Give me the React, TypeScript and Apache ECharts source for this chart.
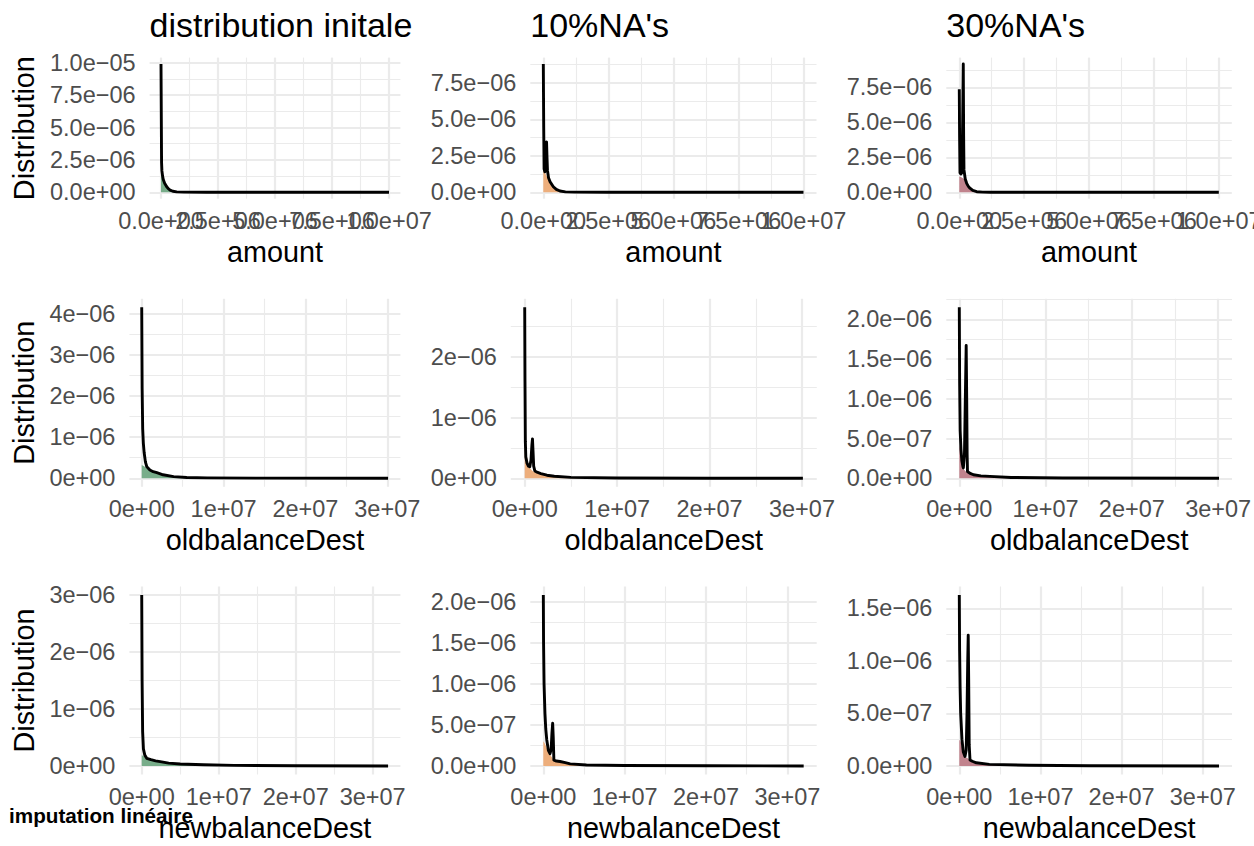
import React, { useEffect, useRef } from "react";
import * as echarts from "echarts";

// ---------------- data ----------------
const columnTitles = ["distribution initale", "10%NA's", "30%NA's"];
const variableNames = ["amount", "oldbalanceDest", "newbalanceDest"];
const yAxisTitle = "Distribution";
const captionText = "imputation linéaire";

// x-axis breaks and labels
const amountXTicks = [0, 2.5e6, 5e6, 7.5e6, 1e7];
const amountXLabels = ["0.0e+00", "2.5e+06", "5.0e+06", "7.5e+06", "1.0e+07"];
const amountXMinor = [1.25e6, 3.75e6, 6.25e6, 8.75e6];
const balanceXTicks = [0, 1e7, 2e7, 3e7];
const balanceXLabels = ["0e+00", "1e+07", "2e+07", "3e+07"];
const balanceXMinor = [0.5e7, 1.5e7, 2.5e7];

// y-axis breaks and labels
const yTicksAmount = [0, 2.5e-6, 5e-6, 7.5e-6, 1e-5];
const yLabelsAmount = ["0.0e+00", "2.5e\u221206", "5.0e\u221206", "7.5e\u221206", "1.0e\u221205"];
const yMinorAmount = [1.25e-6, 3.75e-6, 6.25e-6, 8.75e-6];
const yTicksInt = [0, 1e-6, 2e-6, 3e-6, 4e-6];
const yLabelsInt = ["0e+00", "1e\u221206", "2e\u221206", "3e\u221206", "4e\u221206"];
const yMinorInt = [0.5e-6, 1.5e-6, 2.5e-6, 3.5e-6];
const yTicksHalf = [0, 5e-7, 1e-6, 1.5e-6, 2e-6];
const yLabelsHalf = ["0.0e+00", "5.0e\u221207", "1.0e\u221206", "1.5e\u221206", "2.0e\u221206"];
const yMinorHalf = [2.5e-7, 7.5e-7, 1.25e-6, 1.75e-6, 2.25e-6];

// densities: [x, density]
const amountInitLine = [[0, 9.9e-6], [25000, 2.3e-6], [40000, 1.65e-6], [70000, 1.25e-6], [100000, 0.98e-6], [160000, 0.7e-6], [250000, 0.43e-6], [320000, 0.28e-6], [400000, 0.17e-6], [520000, 0.08e-6], [690000, 0.03e-6], [1000000, 0.012e-6], [2000000, 0.004e-6], [5000000, 0.001e-6], [1e7, 0]];
const amountInitFill = [[0, 1.75e-6], [40000, 1.62e-6], [70000, 1.25e-6], [100000, 0.98e-6], [160000, 0.7e-6], [250000, 0.43e-6], [320000, 0.28e-6], [400000, 0.17e-6], [520000, 0.08e-6], [690000, 0.03e-6], [1000000, 0.012e-6], [2000000, 0.004e-6], [5000000, 0.001e-6], [1e7, 0]];

const amount10Line = [[0, 8.79e-6], [15000, 4.5e-6], [30000, 1.6e-6], [60000, 1.4e-6], [100000, 2.3e-6], [125000, 3.45e-6], [140000, 2.5e-6], [160000, 1.5e-6], [200000, 1.0e-6], [260000, 0.72e-6], [385000, 0.38e-6], [500000, 0.2e-6], [640000, 0.09e-6], [850000, 0.03e-6], [1200000, 0.01e-6], [2500000, 0.003e-6], [5000000, 0.001e-6], [1e7, 0]];
const amount10Fill = [[0, 1.55e-6], [60000, 1.35e-6], [125000, 1.1e-6], [200000, 0.9e-6], [260000, 0.7e-6], [385000, 0.37e-6], [500000, 0.2e-6], [640000, 0.09e-6], [850000, 0.03e-6], [1200000, 0.01e-6], [2500000, 0.003e-6], [1e7, 0]];

const amount30Line = [[0, 7.36e-6], [12000, 4e-6], [27000, 1.4e-6], [60000, 1.3e-6], [104000, 1.4e-6], [130000, 5e-6], [154000, 9.16e-6], [168000, 4e-6], [181000, 1.6e-6], [230000, 0.95e-6], [285000, 0.64e-6], [350000, 0.42e-6], [412000, 0.29e-6], [520000, 0.13e-6], [670000, 0.04e-6], [900000, 0.015e-6], [1200000, 0.006e-6], [2500000, 0.002e-6], [1e7, 0]];
const amount30Fill = [[0, 1.12e-6], [100000, 1.05e-6], [181000, 0.95e-6], [230000, 0.8e-6], [285000, 0.62e-6], [350000, 0.42e-6], [412000, 0.29e-6], [520000, 0.13e-6], [670000, 0.04e-6], [900000, 0.015e-6], [1500000, 0.004e-6], [1e7, 0]];

const oldInitLine = [[0, 4.16e-6], [50000, 2.2e-6], [120000, 1.2e-6], [200000, 0.85e-6], [300000, 0.62e-6], [450000, 0.4e-6], [620000, 0.28e-6], [1000000, 0.2e-6], [1400000, 0.16e-6], [1850000, 0.135e-6], [2600000, 0.085e-6], [3900000, 0.04e-6], [5500000, 0.02e-6], [8000000, 0.01e-6], [1.5e7, 0.003e-6], [3.01e7, 0]];
const oldInitFill = [[0, 0.32e-6], [300000, 0.29e-6], [620000, 0.24e-6], [1000000, 0.19e-6], [1400000, 0.155e-6], [1850000, 0.13e-6], [2600000, 0.085e-6], [3900000, 0.04e-6], [5500000, 0.02e-6], [8000000, 0.01e-6], [1.5e7, 0.003e-6], [3.01e7, 0]];

const old10Line = [[0, 2.82e-6], [30000, 1.6e-6], [70000, 0.6e-6], [120000, 0.35e-6], [250000, 0.25e-6], [400000, 0.2e-6], [550000, 0.19e-6], [680000, 0.3e-6], [780000, 0.55e-6], [840000, 0.65e-6], [900000, 0.45e-6], [970000, 0.2e-6], [1100000, 0.12e-6], [1400000, 0.095e-6], [1750000, 0.077e-6], [2400000, 0.05e-6], [3200000, 0.033e-6], [5000000, 0.015e-6], [1e7, 0.005e-6], [2e7, 0.001e-6], [3.01e7, 0]];
const old10Fill = [[0, 0.65e-6], [100000, 0.55e-6], [250000, 0.35e-6], [400000, 0.24e-6], [550000, 0.17e-6], [840000, 0.12e-6], [1100000, 0.1e-6], [1750000, 0.065e-6], [3200000, 0.03e-6], [5000000, 0.014e-6], [1e7, 0.004e-6], [3.01e7, 0]];

const old30Line = [[0, 2.15e-6], [40000, 1.2e-6], [100000, 0.6e-6], [195000, 0.36e-6], [300000, 0.22e-6], [400000, 0.16e-6], [470000, 0.13e-6], [600000, 0.3e-6], [700000, 1.0e-6], [800000, 1.67e-6], [860000, 1.0e-6], [910000, 0.3e-6], [950000, 0.085e-6], [1200000, 0.065e-6], [1640000, 0.044e-6], [2500000, 0.03e-6], [3550000, 0.023e-6], [6000000, 0.01e-6], [1.2e7, 0.003e-6], [3.01e7, 0]];
const old30Fill = [[0, 0.42e-6], [195000, 0.3e-6], [460000, 0.12e-6], [800000, 0.08e-6], [950000, 0.07e-6], [1200000, 0.06e-6], [1640000, 0.044e-6], [2500000, 0.03e-6], [3550000, 0.022e-6], [6000000, 0.01e-6], [1.2e7, 0.003e-6], [3.01e7, 0]];

const newInitLine = [[0, 3.0e-6], [50000, 1.5e-6], [120000, 0.6e-6], [220000, 0.3e-6], [400000, 0.19e-6], [650000, 0.135e-6], [1200000, 0.11e-6], [1800000, 0.09e-6], [2400000, 0.075e-6], [3500000, 0.05e-6], [5000000, 0.035e-6], [8000000, 0.02e-6], [1.2e7, 0.01e-6], [2e7, 0.004e-6], [3.2e7, 0]];
const newInitFill = [[0, 0.19e-6], [400000, 0.16e-6], [650000, 0.13e-6], [1200000, 0.105e-6], [1800000, 0.088e-6], [2400000, 0.072e-6], [3500000, 0.05e-6], [5000000, 0.034e-6], [8000000, 0.02e-6], [1.2e7, 0.009e-6], [2e7, 0.004e-6], [3.2e7, 0]];

const new10Line = [[0, 2.08e-6], [30000, 1.5e-6], [90000, 1.0e-6], [200000, 0.64e-6], [300000, 0.45e-6], [420000, 0.32e-6], [620000, 0.19e-6], [820000, 0.15e-6], [960000, 0.2e-6], [1060000, 0.4e-6], [1150000, 0.52e-6], [1220000, 0.35e-6], [1300000, 0.07e-6], [1600000, 0.06e-6], [2050000, 0.054e-6], [2700000, 0.04e-6], [3300000, 0.025e-6], [5300000, 0.012e-6], [1e7, 0.005e-6], [2e7, 0.002e-6], [3.2e7, 0]];
const new10Fill = [[0, 0.3e-6], [200000, 0.27e-6], [420000, 0.22e-6], [620000, 0.17e-6], [820000, 0.14e-6], [1150000, 0.09e-6], [1300000, 0.066e-6], [1600000, 0.058e-6], [2050000, 0.05e-6], [2700000, 0.038e-6], [3300000, 0.024e-6], [5300000, 0.011e-6], [1e7, 0.004e-6], [3.2e7, 0]];

const new30Line = [[0, 1.627e-6], [40000, 1.1e-6], [100000, 0.75e-6], [170000, 0.5e-6], [330000, 0.25e-6], [490000, 0.136e-6], [700000, 0.09e-6], [850000, 0.15e-6], [950000, 0.5e-6], [1040000, 1.0e-6], [1100000, 1.245e-6], [1160000, 0.8e-6], [1220000, 0.2e-6], [1320000, 0.057e-6], [1600000, 0.045e-6], [2100000, 0.03e-6], [3700000, 0.015e-6], [8600000, 0.006e-6], [1.6e7, 0.002e-6], [3.2e7, 0]];
const new30Fill = [[0, 0.25e-6], [170000, 0.23e-6], [330000, 0.18e-6], [490000, 0.12e-6], [700000, 0.085e-6], [1100000, 0.07e-6], [1320000, 0.05e-6], [1600000, 0.042e-6], [2100000, 0.03e-6], [3700000, 0.014e-6], [8600000, 0.005e-6], [3.2e7, 0]];

// ---------------- layout / style ----------------
const FONT = "Liberation Sans";
const GREEN = "#78AD8A";
const ORANGE = "#EDAE7C";
const PINK = "#C1838D";
const colColors = [GREEN, ORANGE, PINK];

const rowTop = [57.6, 298.8, 586.5];
const rowBottom = [198.7, 486.8, 774.5];

type Panel = {
  row: number; col: number; left: number; right: number;
  line: number[][]; fill: number[][];
  xTicks: number[]; xLabels: string[]; xMinor: number[];
  yTicks: number[]; yLabels: string[]; yMinor: number[];
};

const panels: Panel[] = [
  { row: 0, col: 0, left: 149.6, right: 400.4, line: amountInitLine, fill: amountInitFill, xTicks: amountXTicks, xLabels: amountXLabels, xMinor: amountXMinor, yTicks: yTicksAmount, yLabels: yLabelsAmount, yMinor: yMinorAmount },
  { row: 0, col: 1, left: 530.3, right: 816.5, line: amount10Line, fill: amount10Fill, xTicks: amountXTicks, xLabels: amountXLabels, xMinor: amountXMinor, yTicks: yTicksAmount, yLabels: yLabelsAmount, yMinor: yMinorAmount },
  { row: 0, col: 2, left: 946.3, right: 1231.8, line: amount30Line, fill: amount30Fill, xTicks: amountXTicks, xLabels: amountXLabels, xMinor: amountXMinor, yTicks: yTicksAmount, yLabels: yLabelsAmount, yMinor: yMinorAmount },
  { row: 1, col: 0, left: 129.4, right: 400.4, line: oldInitLine, fill: oldInitFill, xTicks: balanceXTicks, xLabels: balanceXLabels, xMinor: balanceXMinor, yTicks: yTicksInt, yLabels: yLabelsInt, yMinor: yMinorInt },
  { row: 1, col: 1, left: 510.8, right: 816.8, line: old10Line, fill: old10Fill, xTicks: balanceXTicks, xLabels: balanceXLabels, xMinor: balanceXMinor, yTicks: yTicksInt, yLabels: yLabelsInt, yMinor: yMinorInt },
  { row: 1, col: 2, left: 946.3, right: 1232, line: old30Line, fill: old30Fill, xTicks: balanceXTicks, xLabels: balanceXLabels, xMinor: balanceXMinor, yTicks: yTicksHalf, yLabels: yLabelsHalf, yMinor: yMinorHalf },
  { row: 2, col: 0, left: 129.4, right: 400.4, line: newInitLine, fill: newInitFill, xTicks: balanceXTicks, xLabels: balanceXLabels, xMinor: balanceXMinor, yTicks: yTicksInt, yLabels: yLabelsInt, yMinor: yMinorInt },
  { row: 2, col: 1, left: 530.3, right: 816.7, line: new10Line, fill: new10Fill, xTicks: balanceXTicks, xLabels: balanceXLabels, xMinor: balanceXMinor, yTicks: yTicksHalf, yLabels: yLabelsHalf, yMinor: yMinorHalf },
  { row: 2, col: 2, left: 946.3, right: 1232, line: new30Line, fill: new30Fill, xTicks: balanceXTicks, xLabels: balanceXLabels, xMinor: balanceXMinor, yTicks: yTicksHalf, yLabels: yLabelsHalf, yMinor: yMinorHalf },
];

function within(vals: number[], lo: number, hi: number) {
  return vals.filter((v) => v >= lo && v <= hi);
}
function labelFor(ticks: number[], labels: string[]) {
  return (v: number) => {
    let best = 0;
    let bd = Infinity;
    ticks.forEach((t, i) => {
      const d = Math.abs(t - v);
      if (d < bd) { bd = d; best = i; }
    });
    return labels[best];
  };
}

const tickLabelStyle = {
  fontSize: 23.5, color: "#4D4D4D", fontFamily: FONT,
  hideOverlap: false, showMinLabel: true, showMaxLabel: true,
};

function buildOption() {
  const grids: any[] = [];
  const xAxes: any[] = [];
  const yAxes: any[] = [];
  const series: any[] = [];
  const graphic: any[] = [];

  panels.forEach((p, i) => {
    const top = rowTop[p.row];
    const bottom = rowBottom[p.row];
    grids.push({
      left: p.left, top, width: p.right - p.left, height: bottom - top,
      containLabel: false, outerBoundsMode: "none", show: false,
    });
    const xmax = Math.max(...p.line.map((d) => d[0]), ...p.fill.map((d) => d[0]));
    const ymax = Math.max(...p.line.map((d) => d[1]), ...p.fill.map((d) => d[1]));
    const xMin = -0.05 * xmax, xMax = 1.05 * xmax;
    const yMin = -0.05 * ymax, yMax = 1.05 * ymax;
    const xt = within(p.xTicks, xMin, xMax);
    const yt = within(p.yTicks, yMin, yMax);
    // split labels into two interleaved sets so none of them are auto-hidden
    const xtEven = xt.filter((_, k) => k % 2 === 0);
    const xtOdd = xt.filter((_, k) => k % 2 === 1);
    const xFmt = labelFor(p.xTicks, p.xLabels);

    xAxes.push({
      type: "value", gridIndex: i, min: xMin, max: xMax, position: "bottom",
      axisLine: { show: false, onZero: false },
      axisTick: { show: false, customValues: xt },
      axisLabel: { show: true, customValues: xtEven, formatter: xFmt, margin: 10, ...tickLabelStyle },
      splitLine: { show: true, lineStyle: { color: "#EBEBEB", width: 2.2 } },
    });
    xAxes.push({
      type: "value", gridIndex: i, min: xMin, max: xMax, position: "bottom", offset: 0,
      axisLine: { show: false, onZero: false },
      axisTick: { show: false, customValues: within(p.xMinor, xMin, xMax) },
      axisLabel: { show: xtOdd.length > 0, customValues: xtOdd, formatter: xFmt, margin: 10, ...tickLabelStyle },
      splitLine: { show: true, lineStyle: { color: "#EBEBEB", width: 1.1 } },
    });
    yAxes.push({
      type: "value", gridIndex: i, min: yMin, max: yMax, position: "left",
      axisLine: { show: false, onZero: false },
      axisTick: { show: false, customValues: yt },
      axisLabel: { show: true, customValues: yt, formatter: labelFor(p.yTicks, p.yLabels), margin: 14, ...tickLabelStyle },
      splitLine: { show: true, lineStyle: { color: "#EBEBEB", width: 2.2 } },
    });
    yAxes.push({
      type: "value", gridIndex: i, min: yMin, max: yMax, position: "right",
      axisLine: { show: false, onZero: false },
      axisTick: { show: false, customValues: within(p.yMinor, yMin, yMax) },
      axisLabel: { show: false },
      splitLine: { show: true, lineStyle: { color: "#EBEBEB", width: 1.1 } },
    });

    series.push({
      type: "line", xAxisIndex: 2 * i, yAxisIndex: 2 * i, data: p.fill,
      symbol: "none", showSymbol: false, silent: true, z: 2,
      lineStyle: { width: 0, opacity: 0 },
      areaStyle: { color: colColors[p.col], opacity: 1 },
    });
    series.push({
      type: "line", xAxisIndex: 2 * i, yAxisIndex: 2 * i, data: p.line,
      symbol: "none", showSymbol: false, silent: true, z: 3,
      lineStyle: { color: "#000000", width: 2.9, join: "round", cap: "butt" },
    });

    // x-axis title
    graphic.push({
      type: "text", x: (p.left + p.right) / 2, y: bottom + 53,
      style: { text: variableNames[p.row], font: `28.8px "${FONT}"`, fill: "#000", align: "center", verticalAlign: "middle" },
    });
    if (p.col === 0) {
      graphic.push({
        type: "text", x: 23.8, y: (top + bottom) / 2, rotation: Math.PI / 2,
        style: { text: yAxisTitle, font: `28.8px "${FONT}"`, fill: "#000", align: "center", verticalAlign: "middle" },
      });
    }
    if (p.row === 0) {
      graphic.push({
        type: "text", x: p.left, y: 24.7,
        style: { text: columnTitles[p.col], font: `34px "${FONT}"`, fill: "#000", align: "left", verticalAlign: "middle" },
      });
    }
  });

  graphic.push({
    type: "text", x: 9, y: 815,
    style: { text: captionText, font: `bold 20.7px "${FONT}"`, fill: "#000", align: "left", verticalAlign: "middle" },
  });

  return {
    animation: false,
    backgroundColor: "#FFFFFF",
    textStyle: { fontFamily: FONT },
    grid: grids,
    xAxis: xAxes,
    yAxis: yAxes,
    series,
    graphic,
  };
}

export default function App() {
  const ref = useRef<HTMLDivElement>(null);
  useEffect(() => {
    document.body.style.margin = "0";
    if (!ref.current) return;
    const chart = echarts.init(ref.current, undefined, { renderer: "svg" });
    chart.setOption(buildOption() as any);
    return () => chart.dispose();
  }, []);
  return (
    <div
      ref={ref}
      style={{ position: "absolute", left: 0, top: 0, width: 1254, height: 846, background: "#fff" }}
    />
  );
}
